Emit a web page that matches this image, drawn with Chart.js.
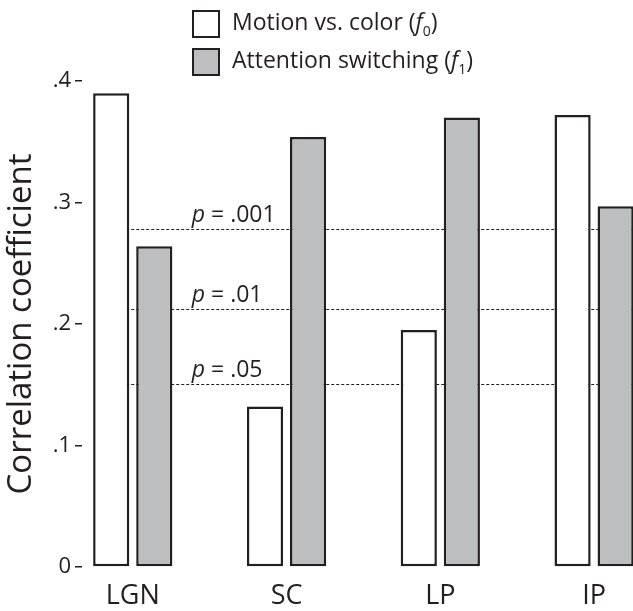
<!DOCTYPE html>
<html>
<head>
<meta charset="utf-8">
<script src="https://cdn.jsdelivr.net/npm/chart.js@4.4.1/dist/chart.umd.min.js"></script>
<style>
  body { margin: 0; background: #fff; overflow: hidden; }
  #wrap { position: relative; width: 633px; height: 611px; overflow: hidden; }
  #chart { position: absolute; left: 0; top: 0; }
  .legend { position: absolute; left: 192px; font-family: "Open Sans", sans-serif; font-size: 23px; color: #231f20; }
  .legend .item { position: relative; height: 38px; }
  .legend .box { position: absolute; left: 0; top: 0; width: 24px; height: 24px; border: 2.5px solid #231f20; }
  .legend .txt { position: absolute; left: 40px; top: -5px; white-space: nowrap; }
  .legend sub { font-size: 14px; vertical-align: -6px; line-height: 0; }
</style>
</head>
<body>
<div id="wrap">
  <canvas id="chart" width="671" height="611"></canvas>
  <div class="legend" style="top:10px">
    <div class="item"><div class="box" style="background:#fff"></div><div class="txt">Motion vs. color (<i>f</i><sub>0</sub>)</div></div>
    <div class="item"><div class="box" style="background:#bcbec0"></div><div class="txt">Attention switching (<i>f</i><sub>1</sub>)</div></div>
  </div>
</div>
<script>
// data
const regions = ['LGN', 'SC', 'LP', 'IP'];
const motionColor = [0.390, 0.132, 0.195, 0.372];   // f0
const attention = [0.264, 0.354, 0.370, 0.297];     // f1
const yTicks = [0, 0.1, 0.2, 0.3, 0.4];
const pLabels = ['.001', '.01', '.05'];
const pValues = [0.278, 0.212, 0.151];

const ink = '#231f20';
const font = '"Open Sans", sans-serif';

// x is a linear index axis so the plot can start a bit left of the first group
const toPoints = arr => arr.map((v, i) => ({ x: i, y: v }));

// dotted significance lines + their p labels, behind the bars
const pLines = {
    id: 'pLines',
    beforeDatasetsDraw(chart) {
        const ctx = chart.ctx;
        const y = chart.scales.y;
        const x = chart.scales.x;
        const area = chart.chartArea;
        const startX = chart.getDatasetMeta(0).data[0].x;
        const textX = x.getPixelForValue(0) + 59;
        ctx.save();
        pValues.forEach((v, i) => {
            const py = Math.round(y.getPixelForValue(v)) + 0.5;
            ctx.strokeStyle = ink;
            ctx.lineWidth = 1;
            ctx.setLineDash([3, 2]);
            ctx.beginPath();
            ctx.moveTo(startX, py);
            ctx.lineTo(area.right, py);
            ctx.stroke();

            ctx.setLineDash([]);
            ctx.fillStyle = ink;
            ctx.textBaseline = 'alphabetic';
            ctx.font = 'italic 23px ' + font;
            ctx.fillText('p', textX, py - 8);
            const w = ctx.measureText('p').width;
            ctx.font = '23px ' + font;
            ctx.fillText(' = ' + pLabels[i], textX + w, py - 8);
        });
        ctx.restore();
    }
};

new Chart(document.getElementById('chart'), {
    type: 'bar',
    data: {
        datasets: [
            {
                label: 'Motion vs. color (f0)',
                data: toPoints(motionColor),
                backgroundColor: '#ffffff',
                borderColor: ink,
                borderWidth: 2.5,
                borderSkipped: false
            },
            {
                label: 'Attention switching (f1)',
                data: toPoints(attention),
                backgroundColor: '#bcbec0',
                borderColor: ink,
                borderWidth: 2.5,
                borderSkipped: false
            }
        ]
    },
    options: {
        responsive: false,
        animation: false,
        devicePixelRatio: 1,
        categoryPercentage: 0.56,
        barPercentage: 0.84,
        layout: { padding: { top: 81, left: 0, right: 0, bottom: 0 } },
        plugins: {
            legend: { display: false },
            tooltip: { enabled: false }
        },
        scales: {
            x: {
                type: 'linear',
                offset: false,
                min: -0.33,
                max: 3.5,
                afterBuildTicks: s => { s.ticks = regions.map((r, i) => ({ value: i })); },
                grid: { display: false, offset: false },
                border: { display: false },
                ticks: {
                    color: ink,
                    font: { family: font, size: 27 },
                    padding: 5,
                    callback: v => regions[v]
                },
                afterFit: s => { s.height = 44; }
            },
            y: {
                min: 0,
                max: 0.4,
                afterBuildTicks: s => { s.ticks = yTicks.map(v => ({ value: v })); },
                grid: { drawOnChartArea: false, drawTicks: true, tickLength: 7, color: ink, lineWidth: 1.5 },
                border: { display: false },
                ticks: {
                    color: ink,
                    font: { family: font, size: 22 },
                    padding: 4,
                    callback: v => v === 0 ? '0' : '.' + Math.round(v * 10)
                },
                title: {
                    display: true,
                    text: 'Correlation coefficient',
                    color: ink,
                    font: { family: font, size: 33 },
                    padding: { top: 2, bottom: 0 }
                },
                afterFit: s => { s.width = 82; }
            }
        }
    },
    plugins: [pLines]
});
</script>
</body>
</html>
